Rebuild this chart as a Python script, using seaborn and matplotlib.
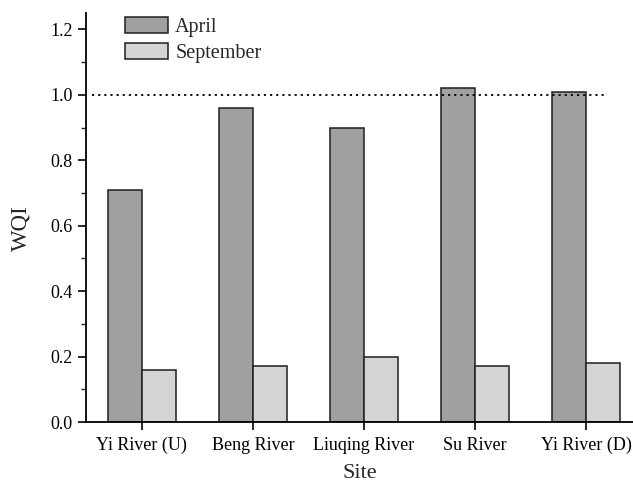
import matplotlib
matplotlib.use("Agg")
import matplotlib.pyplot as plt
import seaborn as sns
import pandas as pd
from matplotlib.ticker import MultipleLocator

sites = ["Yi River (U)", "Beng River", "Liuqing River", "Su River", "Yi River (D)"]
april = [0.71, 0.96, 0.90, 1.02, 1.01]
september = [0.16, 0.17, 0.20, 0.17, 0.18]
months = ["April", "September"]
threshold = 1.0

df = pd.DataFrame({
    "Site": sites * 2,
    "WQI": april + september,
    "Month": [months[0]] * len(sites) + [months[1]] * len(sites),
})

sns.set_theme(style="ticks")
plt.rcParams["font.family"] = ["Liberation Serif", "DejaVu Serif"]

fig = plt.figure(figsize=(6.33, 4.84), dpi=100)
ax = fig.add_axes([0.136, 0.128, 0.864, 0.845])

sns.barplot(data=df, x="Site", y="WQI", hue="Month", order=sites,
            hue_order=months, palette=["#a0a0a0", "#d4d4d4"],
            width=0.61, edgecolor="#1e1e1e", linewidth=1.1, ax=ax,
            errorbar=None, saturation=1)

ax.hlines(threshold, -0.45, 4.19, colors="black", linestyles=(0, (1.2, 2.2)),
          linewidth=1.3, zorder=3)

ax.set_xlim(-0.5, 4.42)
ax.set_ylim(0, 1.25)
ax.yaxis.set_major_locator(MultipleLocator(0.2))
ax.yaxis.set_minor_locator(MultipleLocator(0.1))
ax.yaxis.set_major_formatter(matplotlib.ticker.FormatStrFormatter("%.1f"))

for s in ["top", "right"]:
    ax.spines[s].set_visible(False)
for s in ["left", "bottom"]:
    ax.spines[s].set_linewidth(1.3)
    ax.spines[s].set_color("black")

ax.tick_params(axis="both", which="major", direction="out", length=6,
               width=1.2, labelsize=13, colors="black")
ax.tick_params(axis="x", which="major", pad=4.5)
ax.tick_params(axis="y", which="minor", direction="out", length=3.5, width=1.0)

ax.set_xlabel("Site", fontsize=16, labelpad=7)
ax.set_ylabel("WQI", fontsize=16.5)
ax.yaxis.set_label_coords(-0.1, 0.474)

leg = ax.legend(loc="upper left", bbox_to_anchor=(0.071, 0.99), frameon=False,
                fontsize=14.5, handlelength=2.15, handleheight=0.85,
                labelspacing=0.3, handletextpad=0.35, borderpad=0,
                borderaxespad=0)

fig.savefig("out.png", dpi=100)
